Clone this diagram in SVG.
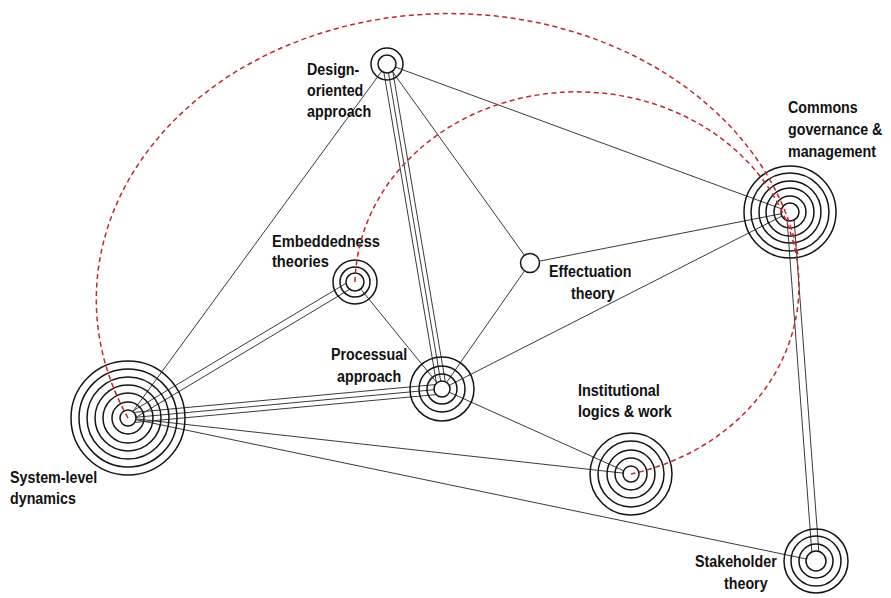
<svg xmlns="http://www.w3.org/2000/svg" width="891" height="598" viewBox="0 0 891 598">
<style>
.ln{stroke:#3a3a3a;stroke-width:1;fill:none}
.ring{stroke:#141414;stroke-width:1.5;fill:none}
.core{stroke:#141414;stroke-width:1.5;fill:#fff}
.arc{stroke:#c1272d;stroke-width:1.5;fill:none;stroke-dasharray:5 3.5}
.lbl{font-family:"Liberation Sans",Arial,sans-serif;font-weight:bold;font-size:17px;fill:#111}
</style>
<rect width="891" height="598" fill="#fff"/>
<g id="connectors">
<line class="ln" x1="128" y1="418" x2="387" y2="64"/>
<line class="ln" x1="128" y1="418" x2="631" y2="474"/>
<line class="ln" x1="128" y1="418" x2="816" y2="561"/>
<line class="ln" x1="387" y1="64" x2="530" y2="263"/>
<line class="ln" x1="387" y1="64" x2="790" y2="212"/>
<line class="ln" x1="355" y1="282" x2="442" y2="389"/>
<line class="ln" x1="530" y1="263" x2="442" y2="389"/>
<line class="ln" x1="530" y1="263" x2="790" y2="212"/>
<line class="ln" x1="442" y1="389" x2="790" y2="212"/>
<line class="ln" x1="442" y1="389" x2="631" y2="474"/>
<line class="ln" x1="128" y1="418" x2="442" y2="389"/>
<line class="ln" x1="128.5" y1="423" x2="442.5" y2="394"/>
<line class="ln" x1="127.5" y1="413" x2="441.5" y2="384"/>
<line class="ln" x1="129.8" y1="421" x2="356.8" y2="285"/>
<line class="ln" x1="126.2" y1="415" x2="353.2" y2="279"/>
<line class="ln" x1="387" y1="64" x2="442" y2="389"/>
<line class="ln" x1="391.4" y1="63.3" x2="446.4" y2="388.3"/>
<line class="ln" x1="382.6" y1="64.7" x2="437.6" y2="389.7"/>
<line class="ln" x1="793.5" y1="211.7" x2="819.5" y2="560.7"/>
<line class="ln" x1="786.5" y1="212.3" x2="812.5" y2="561.3"/>
</g>
<g id="system-level">
<circle class="ring" cx="128" cy="418" r="57"/>
<circle class="ring" cx="128" cy="418" r="49"/>
<circle class="ring" cx="128" cy="418" r="41"/>
<circle class="ring" cx="128" cy="418" r="33"/>
<circle class="ring" cx="128" cy="418" r="25"/>
<circle class="ring" cx="128" cy="418" r="16"/>
<circle class="core" cx="128" cy="418" r="8"/>
<text class="lbl" transform="translate(10 483) scale(0.84 1)">System-level</text>
<text class="lbl" transform="translate(10 504) scale(0.84 1)">dynamics</text>
</g>
<g id="design">
<circle class="ring" cx="387" cy="64" r="16"/>
<circle class="core" cx="387" cy="64" r="9"/>
<text class="lbl" transform="translate(307 75) scale(0.84 1)">Design-</text>
<text class="lbl" transform="translate(307 96) scale(0.84 1)">oriented</text>
<text class="lbl" transform="translate(307 117) scale(0.84 1)">approach</text>
</g>
<g id="commons">
<circle class="ring" cx="790" cy="212" r="46"/>
<circle class="ring" cx="790" cy="212" r="39"/>
<circle class="ring" cx="790" cy="212" r="31"/>
<circle class="ring" cx="790" cy="212" r="24"/>
<circle class="ring" cx="790" cy="212" r="16"/>
<circle class="core" cx="790" cy="212" r="9"/>
<text class="lbl" transform="translate(788 113) scale(0.84 1)">Commons</text>
<text class="lbl" transform="translate(788 135) scale(0.84 1)">governance &amp;</text>
<text class="lbl" transform="translate(788 157) scale(0.84 1)">management</text>
</g>
<g id="embeddedness">
<circle class="ring" cx="355" cy="282" r="22"/>
<circle class="ring" cx="355" cy="282" r="15"/>
<circle class="core" cx="355" cy="282" r="9"/>
<text class="lbl" transform="translate(272 247) scale(0.86 1)">Embeddedness</text>
<text class="lbl" transform="translate(272 267) scale(0.86 1)">theories</text>
</g>
<g id="effectuation">
<circle class="core" cx="530" cy="263" r="9.5"/>
<text class="lbl" transform="translate(549 277) scale(0.84 1)">Effectuation</text>
<text class="lbl" transform="translate(571 299) scale(0.84 1)">theory</text>
</g>
<g id="processual">
<circle class="ring" cx="442" cy="389" r="32"/>
<circle class="ring" cx="442" cy="389" r="23"/>
<circle class="ring" cx="442" cy="389" r="15"/>
<circle class="core" cx="442" cy="389" r="8"/>
<text class="lbl" transform="translate(331 360) scale(0.84 1)">Processual</text>
<text class="lbl" transform="translate(337 382) scale(0.84 1)">approach</text>
</g>
<g id="institutional">
<circle class="ring" cx="631" cy="474" r="41"/>
<circle class="ring" cx="631" cy="474" r="33"/>
<circle class="ring" cx="631" cy="474" r="24"/>
<circle class="ring" cx="631" cy="474" r="16"/>
<circle class="core" cx="631" cy="474" r="8"/>
<text class="lbl" transform="translate(578 396) scale(0.85 1)">Institutional</text>
<text class="lbl" transform="translate(578 417) scale(0.85 1)">logics &amp; work</text>
</g>
<g id="stakeholder">
<circle class="ring" cx="816" cy="561" r="32"/>
<circle class="ring" cx="816" cy="561" r="25"/>
<circle class="ring" cx="816" cy="561" r="17"/>
<circle class="core" cx="816" cy="561" r="10"/>
<text class="lbl" transform="translate(695 567) scale(0.84 1)">Stakeholder</text>
<text class="lbl" transform="translate(724 589) scale(0.84 1)">theory</text>
</g>
<g id="arcs">
<path class="arc" d="M128,418 A353,286 0 1 1 798,255"/>
<path class="arc" d="M355,282 A222,194 0 1 1 631,474"/>
</g>
</svg>
